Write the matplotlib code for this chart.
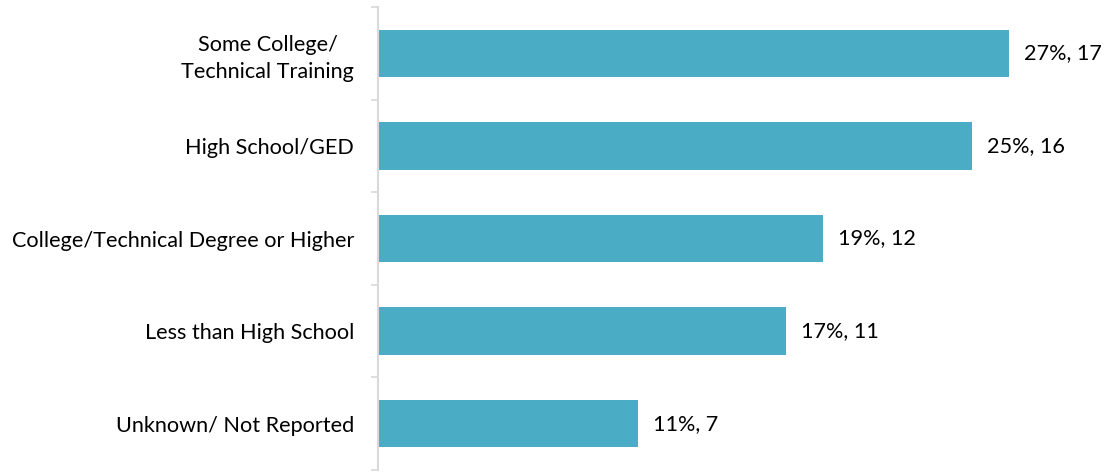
import matplotlib
matplotlib.use("Agg")
import matplotlib.pyplot as plt

categories = [
    "Some College/\nTechnical Training",
    "High School/GED",
    "College/Technical Degree or Higher",
    "Less than High School",
    "Unknown/ Not Reported",
]
counts = [17, 16, 12, 11, 7]
percents = [27, 25, 19, 17, 11]

bar_color = "#4BACC6"
axis_color = "#D9D9D9"

plt.rcParams["font.family"] = ["Lato", "DejaVu Sans"]
label_size = 15.6

fig = plt.figure(figsize=(11.05, 4.72), dpi=100)
ax = fig.add_axes([378 / 1105, 2 / 472, 727 / 1105, 463 / 472])

y = list(range(len(categories)))
ax.barh(y, counts, height=0.51, color=bar_color, zorder=2)
ax.set_ylim(len(categories) - 0.5, -0.5)
ax.set_xlim(0, 727 / 37.1)

for yi, c, p in zip(y, counts, percents):
    ax.annotate(f"{p}%, {c}", xy=(c, yi), xytext=(15 * 0.72, 0),
                textcoords="offset points", va="center", ha="left",
                fontsize=label_size, color="#000000")

ax.set_yticks(y)
ax.set_yticklabels(categories, fontsize=label_size, color="#000000",
                   multialignment="center", linespacing=1.4)
ax.set_yticks([i - 0.5 for i in range(len(categories) + 1)], minor=True)
ax.tick_params(axis="y", which="major", length=0, pad=24 * 0.72)
ax.tick_params(axis="y", which="minor", length=7 * 0.72, width=1.2,
               color=axis_color)
ax.set_xticks([])

for side in ("top", "right", "bottom"):
    ax.spines[side].set_visible(False)
ax.spines["left"].set_color(axis_color)
ax.spines["left"].set_linewidth(1.5)

fig.savefig("out.png", dpi=100)
